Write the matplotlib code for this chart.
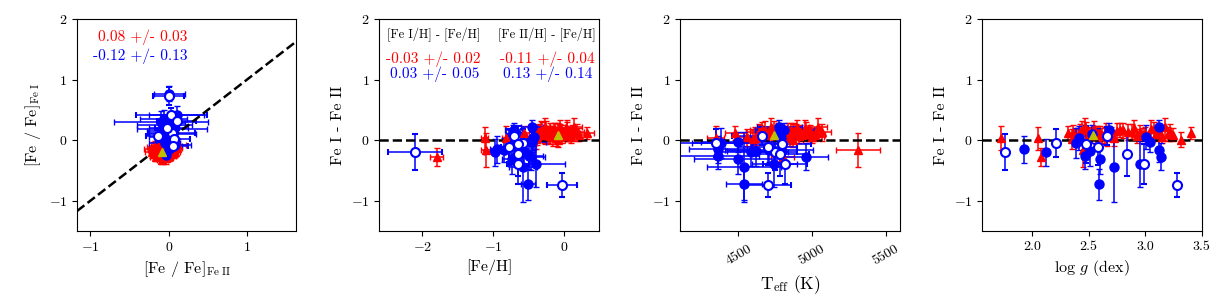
import numpy as np
import matplotlib
matplotlib.use("Agg")
import matplotlib.pyplot as plt

plt.rcParams['font.family'] = 'serif'
plt.rcParams['font.serif'] = ['cmr10']
plt.rcParams['mathtext.fontset'] = 'cm'
plt.rcParams['axes.formatter.use_mathtext'] = True
plt.rcParams['axes.unicode_minus'] = True

# ---- red triangles (stars without anomalous lines)
red_feh = [-1.80, -1.12, -1.10, -0.82, -0.57, -0.42, -0.12, -0.30, 0.05, -0.22,
           -0.05, -0.35, 0.10, -0.18, -0.27, 0.02, -0.08, -0.40, -0.15, 0.18,
           -0.25, -0.02, -0.33, 0.08, -0.10, -0.20, 0.00, -0.28, 0.14, -0.06,
           -0.38, -0.13, 0.04, -0.24, -0.16, 0.22, -0.31, -0.03, -0.09, 0.12,
           -0.19, -0.36, 0.06, -0.14, -0.26, 0.33, -0.07]
red_teff = [4800, 4610, 5310, 4345, 4480, 4560, 4880, 4700, 4950, 4760,
            4900, 4640, 5000, 4820, 4720, 4930, 4860, 4600, 4790, 5070,
            4740, 4910, 4680, 4970, 4850, 4770, 4940, 4710, 5040, 4890,
            4620, 4830, 4960, 4750, 4810, 5020, 4660, 4920, 4870, 4990,
            4780, 4650, 4980, 4840, 4730, 4890, 4870]
red_logg = [2.08, 2.05, 2.45, 1.72, 2.32, 2.38, 2.75, 2.50, 3.05, 2.62,
            2.90, 2.42, 3.15, 2.68, 2.47, 2.98, 2.80, 2.35, 2.58, 3.22,
            2.55, 2.93, 2.44, 3.10, 2.72, 2.65, 3.00, 2.52, 3.18, 2.85,
            2.40, 2.70, 3.08, 2.60, 2.66, 3.25, 2.48, 2.95, 3.32, 3.12,
            2.64, 2.36, 3.20, 2.78, 2.56, 3.41, 2.88]
red_diff = [-0.28, 0.03, -0.16, 0.04, 0.12, 0.05, 0.15, 0.10, 0.18, 0.08,
            0.20, 0.14, 0.06, 0.12, 0.22, 0.09, 0.16, 0.02, 0.11, 0.13,
            0.19, 0.07, 0.17, 0.10, 0.04, 0.15, 0.12, 0.08, 0.21, 0.14,
            0.06, 0.10, 0.18, 0.11, 0.05, 0.09, 0.16, 0.13, 0.01, 0.15,
            0.07, 0.12, 0.10, 0.17, 0.09, 0.12, 0.14]
red_ediff = [0.15, 0.19, 0.28, 0.20, 0.12, 0.14, 0.13, 0.11, 0.15, 0.12,
             0.14, 0.13, 0.10, 0.12, 0.15, 0.11, 0.13, 0.16, 0.12, 0.14,
             0.13, 0.11, 0.15, 0.12, 0.13, 0.14, 0.10, 0.12, 0.15, 0.13,
             0.14, 0.11, 0.12, 0.13, 0.15, 0.11, 0.14, 0.12, 0.13, 0.10,
             0.14, 0.13, 0.12, 0.11, 0.15, 0.10, 0.12]
red_efeh = [0.09, 0.05, 0.07, 0.06, 0.08, 0.10, 0.08, 0.07, 0.09, 0.11,
            0.08, 0.07, 0.10, 0.09, 0.08, 0.12, 0.07, 0.09, 0.08, 0.10,
            0.07, 0.09, 0.08, 0.11, 0.07, 0.09, 0.10, 0.08, 0.12, 0.07,
            0.09, 0.08, 0.10, 0.09, 0.07, 0.11, 0.08, 0.09, 0.10, 0.08,
            0.07, 0.09, 0.11, 0.08, 0.10, 0.10, 0.08]
red_eteff = [80, 70, 150, 60, 70, 80, 90, 70, 80, 100,
             70, 90, 80, 70, 90, 80, 100, 70, 80, 60,
             90, 80, 70, 90, 80, 100, 70, 80, 60, 90,
             80, 70, 90, 80, 100, 70, 80, 90, 70, 80,
             90, 70, 80, 100, 70, 80, 90]
red_fe2 = [-0.10, -0.05, -0.18, -0.12, 0.02, -0.08, -0.15, 0.05, -0.03, -0.20,
           -0.07, 0.08, -0.11, -0.01, -0.16, -0.06, 0.10, -0.13, -0.09, 0.00,
           -0.19, -0.04, 0.04, -0.14, -0.08, 0.06, -0.02, -0.17, -0.10, 0.03,
           -0.12, -0.06, 0.12, -0.21, -0.05, -0.09, 0.01, -0.15, -0.03, -0.11,
           0.07, -0.07, -0.13, -0.01, -0.18, 0.04, -0.08]
red_fe1 = [-0.15, -0.08, -0.22, -0.12, -0.18, -0.05, -0.25, -0.10, -0.30, -0.14,
           -0.02, -0.20, -0.16, -0.11, -0.27, -0.07, -0.13, -0.19, -0.09, -0.24,
           -0.17, -0.04, -0.21, -0.12, -0.33, -0.15, -0.06, -0.18, -0.10, -0.23,
           -0.14, 0.28, -0.08, -0.20, -0.16, -0.11, -0.26, -0.13, -0.03, -0.19,
           -0.15, -0.09, -0.22, -0.17, -0.12, -0.07, -0.14]

# ---- blue filled circles
blu_feh = [-0.95, -0.98, -0.70, -0.43, -0.50, -0.56, -0.72, -0.51, -0.73,
           -0.71, -0.58, -0.39, -0.42, -0.45, -0.45, -0.84, -0.47]
blu_teff = [4362, 4588, 4385, 4790, 4362, 4621, 4770, 4538, 4497,
            4813, 4538, 4745, 4780, 4497, 4779, 4710, 4959]
blu_logg = [1.93, 2.12, 2.39, 2.41, 2.47, 2.51, 2.53, 2.59, 2.60,
            2.68, 2.72, 2.95, 3.01, 3.04, 3.12, 3.12, 3.14]
blu_diff = [-0.15, -0.20, -0.05, 0.03, -0.26, -0.18, 0.10, -0.73, -0.31,
            0.16, -0.44, -0.40, 0.05, -0.03, 0.21, -0.16, -0.27]
blu_ediff = [0.22, 0.22, 0.25, 0.20, 0.22, 0.25, 0.15, 0.25, 0.25,
             0.12, 0.58, 0.38, 0.20, 0.17, 0.13, 0.20, 0.22]
blu_efeh = [0.10, 0.15, 0.12, 0.15, 0.20, 0.15, 0.10, 0.10, 0.15,
            0.12, 0.20, 0.40, 0.10, 0.20, 0.15, 0.15, 0.20]
blu_eteff = [200, 250, 200, 150, 280, 200, 150, 120, 300,
             200, 250, 150, 200, 250, 150, 300, 150]
blu_fe2 = [0.01, 0.10, -0.10, -0.05, 0.00, -0.08, 0.05, -0.02, -0.05,
           0.02, -0.04, 0.08, -0.10, 0.04, -0.06, 0.00, 0.06]
blu_fe1 = [0.77, 0.41, 0.30, 0.25, 0.20, 0.15, 0.10, 0.00, -0.05,
           -0.10, -0.25, -0.08, 0.05, 0.18, 0.35, -0.15, 0.28]
blu_efe2 = [0.20, 0.35, 0.60, 0.35, 0.25, 0.20, 0.30, 0.15, 0.20,
            0.15, 0.10, 0.20, 0.15, 0.45, 0.30, 0.12, 0.15]
blu_efe1 = [0.12, 0.15, 0.18, 0.15, 0.12, 0.15, 0.12, 0.10, 0.12,
            0.15, 0.10, 0.12, 0.15, 0.12, 0.15, 0.10, 0.12]

# ---- blue open circles
opn_feh = [-2.11, -0.58, -0.71, -0.77, -0.65, -0.65, -0.03, -0.65]
opn_teff = [4750, 4349, 4659, 4700, 4795, 4817, 4700, 4780]
opn_logg = [1.76, 2.21, 2.66, 2.58, 2.48, 2.99, 3.28, 2.84]
opn_diff = [-0.20, -0.04, 0.07, -0.11, -0.07, -0.40, -0.74, -0.23]
opn_ediff = [0.30, 0.23, 0.15, 0.30, 0.30, 0.33, 0.20, 0.36]
opn_efeh = [0.38, 0.10, 0.10, 0.12, 0.15, 0.15, 0.21, 0.12]
opn_eteff = [150, 250, 200, 200, 200, 150, 155, 200]
opn_fe2 = [0.00, 0.035, 0.10, -0.14, 0.04, 0.07, -0.02, 0.05]
opn_fe1 = [0.73, 0.41, 0.31, 0.07, 0.11, 0.02, 0.20, -0.10]
opn_efe2 = [0.20, 0.45, 0.25, 0.15, 0.30, 0.20, 0.15, 0.20]
opn_efe1 = [0.15, 0.12, 0.15, 0.10, 0.12, 0.10, 0.12, 0.12]

# ---- reference star (yellow)
ref_feh, ref_teff, ref_logg, ref_diff = [-0.08], [4740], [2.54], [0.09]
ref_fe2, ref_fe1 = [-0.09], [-0.20]

red_kw = dict(fmt='^', color='r', ms=5.5, capsize=2.5, elinewidth=1.1)
blu_kw = dict(fmt='o', color='b', ms=6.5, capsize=2.5, elinewidth=1.1)
opn_kw = dict(fmt='o', color='b', mfc='w', mec='b', mew=1.5, ms=6.5, capsize=2.5, elinewidth=1.1)
ref_kw = dict(marker='^', color='y', ms=5.5, ls='none', zorder=5)

fig = plt.figure(figsize=(12.25, 3.05), dpi=100)
lefts = [0.0629, 0.3096, 0.5553, 0.8019]
axes = [fig.add_axes([l, 0.2426, 0.179, 0.695]) for l in lefts]

# panel 1
ax = axes[0]
ax.errorbar(red_fe2, red_fe1, xerr=red_efeh, yerr=red_efeh, **red_kw)
ax.errorbar(blu_fe2, blu_fe1, xerr=blu_efe2, yerr=blu_efe1, **blu_kw)
ax.errorbar(opn_fe2, opn_fe1, xerr=opn_efe2, yerr=opn_efe1, **opn_kw)
ax.plot(ref_fe2, ref_fe1, **ref_kw)
ax.plot([-1.17, 1.63], [-1.17, 1.63], 'k--', lw=1.8)
ax.set_xlim(-1.17, 1.63)
ax.set_xticks([-1, 0, 1])
ax.set_xlabel(r'[Fe / Fe]$_{\rm Fe\;II}$', fontsize=11.5)
ax.set_ylabel(r'[Fe / Fe]$_{\rm Fe\;I}$', fontsize=11.5)
ax.text(0.3, 0.914, '0.08 +/- 0.03', color='r', fontsize=11, ha='center', va='center', transform=ax.transAxes)
ax.text(0.29, 0.826, '-0.12 +/- 0.13', color='b', fontsize=11, ha='center', va='center', transform=ax.transAxes)

# panel 2
ax = axes[1]
ax.errorbar(red_feh, red_diff, xerr=red_efeh, yerr=red_ediff, **red_kw)
ax.errorbar(blu_feh, blu_diff, xerr=blu_efeh, yerr=blu_ediff, **blu_kw)
ax.errorbar(opn_feh, opn_diff, xerr=opn_efeh, yerr=opn_ediff, **opn_kw)
ax.plot(ref_feh, ref_diff, **ref_kw)
ax.set_xlim(-2.61, 0.49)
ax.set_xticks([-2, -1, 0])
ax.set_xlabel('[Fe/H]', fontsize=11.5)
ax.text(0.25, 0.925, '[Fe I/H] - [Fe/H]', fontsize=9, ha='center', va='center', transform=ax.transAxes)
ax.text(0.766, 0.925, '[Fe II/H] - [Fe/H]', fontsize=9, ha='center', va='center', transform=ax.transAxes)
ax.text(0.246, 0.81, '-0.03 +/- 0.02', color='r', fontsize=11, ha='center', va='center', transform=ax.transAxes)
ax.text(0.765, 0.81, '-0.11 +/- 0.04', color='r', fontsize=11, ha='center', va='center', transform=ax.transAxes)
ax.text(0.255, 0.74, '0.03 +/- 0.05', color='b', fontsize=11, ha='center', va='center', transform=ax.transAxes)
ax.text(0.77, 0.74, '0.13 +/- 0.14', color='b', fontsize=11, ha='center', va='center', transform=ax.transAxes)

# panel 3
ax = axes[2]
ax.errorbar(red_teff, red_diff, xerr=red_eteff, yerr=red_ediff, **red_kw)
ax.errorbar(blu_teff, blu_diff, xerr=blu_eteff, yerr=blu_ediff, **blu_kw)
ax.errorbar(opn_teff, opn_diff, xerr=opn_eteff, yerr=opn_ediff, **opn_kw)
ax.plot(ref_teff, ref_diff, **ref_kw)
ax.set_xlim(4105, 5595)
ax.set_xticks([4500, 5000, 5500])
ax.tick_params(axis='x', labelrotation=30)
ax.set_xlabel(r'T$_{\rm eff}$ (K)', fontsize=12.5)

# panel 4
ax = axes[3]
ax.errorbar(red_logg, red_diff, yerr=red_ediff, **red_kw)
ax.errorbar(blu_logg, blu_diff, yerr=blu_ediff, **blu_kw)
ax.errorbar(opn_logg, opn_diff, yerr=opn_ediff, **opn_kw)
ax.plot(ref_logg, ref_diff, **ref_kw)
ax.set_xlim(1.557, 3.5)
ax.set_xticks([2.0, 2.5, 3.0, 3.5])
ax.set_xticklabels(['2.0', '2.5', '3.0', '3.5'])
ax.set_xlabel(r'log $g$ (dex)', fontsize=11.5)

for i, ax in enumerate(axes):
    ax.set_ylim(-1.5, 2)
    ax.set_yticks([-1, 0, 1, 2])
    ax.tick_params(labelsize=10)
    if i > 0:
        ax.axhline(0, color='k', ls='--', lw=1.8)
        ax.set_ylabel('Fe I - Fe II', fontsize=11.5)

fig.savefig('out.png', dpi=100)
